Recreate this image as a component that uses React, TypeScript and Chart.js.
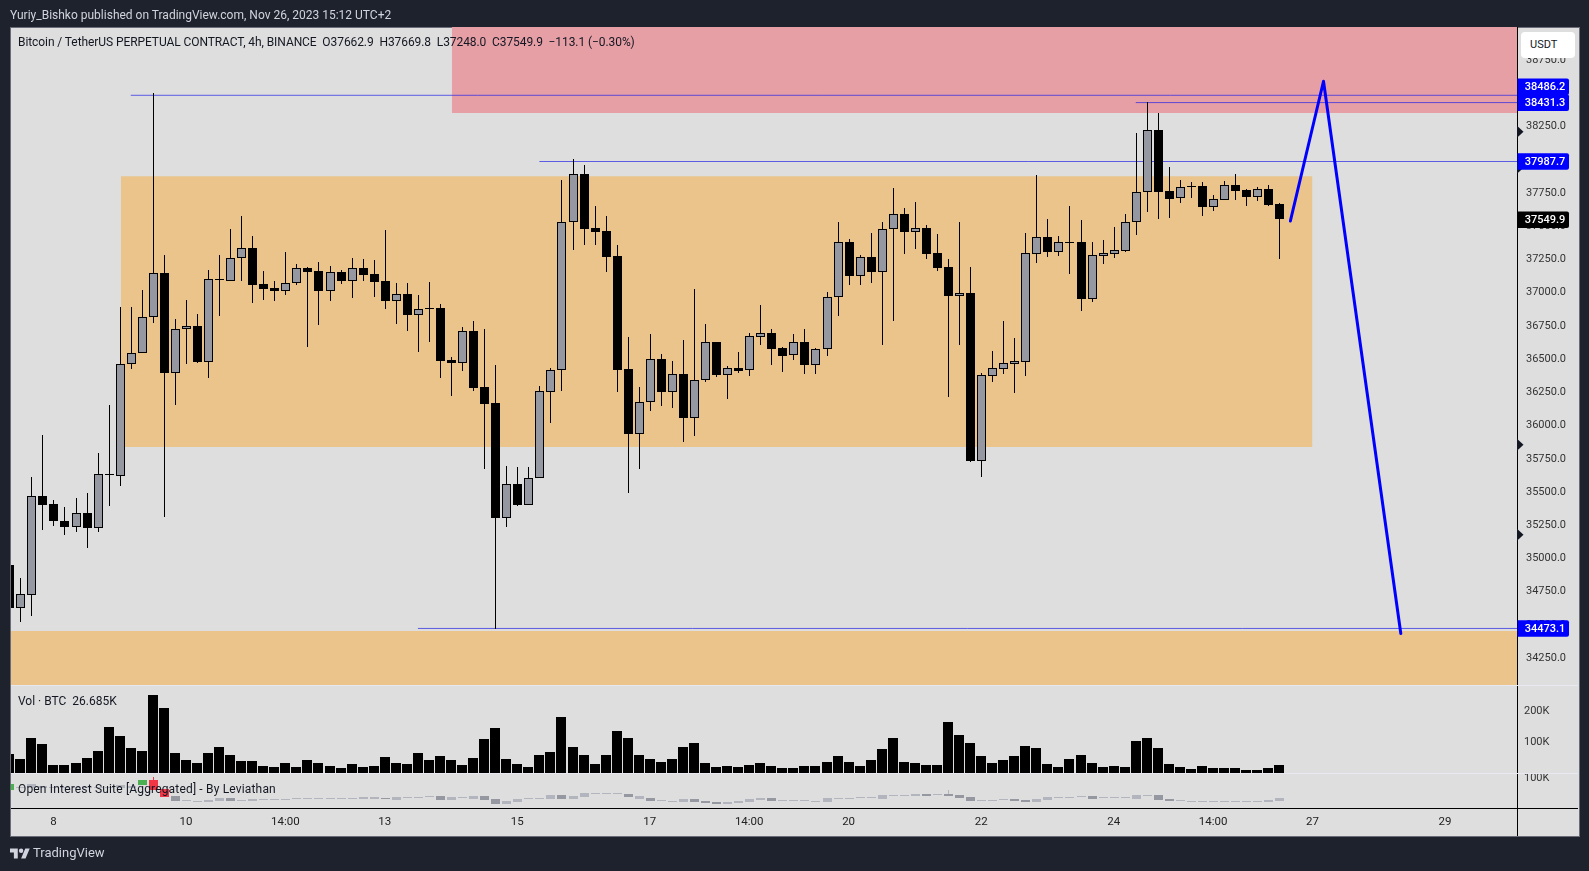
import React, { useEffect, useRef } from "react";
import { Chart, registerables } from "chart.js";

Chart.register(...registerables);

const priceOpen = [34946,34625.7,34722.9,35469.5,35402.6,35281.3,35236.2,35335.5,35227.9,35632,35620.1,36456.3,36545.1,36816.9,37142,36394.6,36719.7,36749.1,36478.1,37100,37087.8,37254.9,37330.2,37058.5,37029.1,37012.6,37066.7,37181.2,37158.6,37010.3,37151.1,37085.6,37181.2,37136,37083.3,36935,36983.2,36829.7,36881,36877.8,36488.7,36468.4,36704.7,36285.5,36165,35301.7,35553.1,35399.5,35598.3,36250.1,36411.2,37525.1,37888.7,37482.2,37459.7,37271.5,36420.9,35933.9,36170.3,36493.9,36250.1,36381,36054.4,36335.9,36621.9,36378,36428.5,36411.2,36664.1,36691.9,36579,36524.1,36624.2,36453.3,36569.2,36960.6,37376.9,37123.2,37264,37153.4,37472.5,37587.6,37454.4,37482.2,37294.1,37188.7,36972.7,36993,35730.7,36370.5,36423.2,36460.8,36475.9,37288.8,37414.5,37303.9,37378,37376.9,36950.1,37273.7,37288.8,37311.4,37525.1,37751,38219.9,37760.7,37705.8,37799,37798.4,37642.6,37695.3,37805.9,37768.3,37717.8,37775.8,37662.9];
const priceHigh = [34946,34848.5,35607.3,35924.2,35435,35381.5,35450.7,35488.4,35789.4,36150,36886.9,36886.9,37015.6,38499.1,37279,36795,36940.3,36835.7,37166.1,37279,37475.5,37571.8,37421.3,37157.8,37082.6,37300.8,37209,37188.7,37226.3,37196.2,37166.1,37256.4,37248.9,37241.4,37467.2,37068.3,37068.3,36977.9,37075.8,36910.2,36511.3,36737.1,36782.2,36722,36451,35690.8,35683.3,35683.3,36293,36428.5,37843.5,38001.6,37956.4,37647.8,37572.6,37354.3,36661.8,36285.5,36684.4,36533.8,36481.2,36639.2,37023.1,36759.7,36621.9,36443.5,36549,36691.9,36902.7,36722,36586.5,36684.4,36722,36579,37000.5,37527.4,37399.4,37279,37444.6,37527.4,37783.3,37632.8,37677.9,37504.8,37437.1,37249,37527.4,37188.7,36388.6,36556.4,36782.2,36654.3,37444.6,37881.2,37550,37422,37647.8,37542.5,37376.9,37391.9,37489.8,37587.6,38197.3,38431.3,38347.8,37941.4,37843.5,37828.5,37828.5,37730.6,37836,37888.7,37775.8,37790.9,37805.9,37669.8];
const priceLow = [34622,34515.9,34564,35209.1,35241.5,35171.4,35193.3,35074.4,35193.3,35392,35542.6,36423.9,36545.1,36767.9,35308.4,36150,36459.3,36466.8,36357,36822.1,37087.8,37085.6,36921.5,36943.3,36935,36980.9,37056.2,36588.8,36754.4,36932.8,37060.7,36955.4,37083.3,36962.9,36872.6,36759.7,36707,36548.9,36624.2,36353.2,36217.7,36405.9,36255.4,35668.2,34461.7,35231.7,35389.7,35399.5,35598.3,36014.5,36255.4,37316.6,37354.3,37354.3,37151.1,36247.8,35487.6,35668.2,36104.8,36142.4,36127.4,35871.5,35916.6,36323.1,36360.7,36195.1,36390.8,36368.2,36601.6,36451,36398.4,36488.7,36383.3,36383.3,36518.8,36819.9,37053.2,37053.2,37068.3,36601.6,36782.2,37286.5,37324.2,37249,37158.6,36210.2,36601.6,35720.9,35608,36323.1,36383.3,36240.3,36368.2,37218.8,37264,37271.5,37136,36857.5,36925.2,37211.3,37256.4,37301.6,37429.6,37602.7,37550,37557.5,37670.4,37708.1,37572.6,37610.2,37695.3,37693,37647.8,37685.5,37647.8,37248];
const priceClose = [34622,34725.1,35469.5,35400.3,35279.1,35233.2,35335.5,35227.9,35628.4,35624,36456.3,36545.1,36816.9,37142,36394.6,36719.7,36749.1,36475.1,37096.1,37092,37254.9,37330.2,37056.2,37026.1,37010.3,37066.7,37179.7,37153.4,37010.3,37148.8,37085.6,37178.9,37128.5,37078,36932.8,36983.2,36829.7,36870.3,36873,36483.4,36466.1,36704.7,36277.9,36157.5,35299.4,35553.1,35399.5,35598.3,36253.1,36411.2,37525.1,37886.4,37474.7,37452.1,37264,36413.4,35931.7,36170.3,36493.9,36247.8,36381,36052.1,36335.9,36621.9,36375.8,36426.2,36405.9,36667.1,36689.6,36571.5,36518.8,36621.9,36451,36569.2,36960.6,37374.6,37120.9,37261.7,37151.1,37472.5,37585.4,37452.1,37480,37286.5,37181.2,36970.4,36990.7,35728.4,36373.5,36426.2,36463.8,36478.9,37291.8,37412.2,37301.6,37374.6,37370,36947.8,37276.8,37291.8,37314.4,37525.1,37751,38217.6,37753.2,37700.5,37788.6,37791,37640.3,37698.3,37803.6,37760.7,37715.6,37773.5,37655.4,37549.9];

const volumeK = [61,45,113,94,26,26,32,48,71,148,119,81,71,252,210,65,42,32,65,84,58,39,39,23,19,32,19,42,32,23,16,29,19,23,52,32,29,65,42,55,42,26,48,110,145,45,29,19,58,68,181,84,58,29,58,135,113,58,45,35,45,84,97,32,19,23,19,26,32,23,16,16,23,23,35,55,35,23,42,77,113,35,32,26,26,165,123,97,55,32,42,55,87,81,29,19,45,58,32,19,23,19,103,113,81,29,19,13,23,16,16,16,10,10,16,26.685];

const oiOpen = [76.7,79.3,79.3,80.7,80.7,80.7,79.3,79.3,79.3,79.3,80.7,80.7,86,95.3,77.3,64,54,52,52,54,60,54,54,56,56.7,56.7,58,57.3,58,58,58,58,58,58,59.3,56,60,60,62,64,56,60,58,63.3,58,48,52,58,58,58,66,58,62,68.7,68.7,68.7,68,58,60,54,52,52,58,54,52,48,50,52,56,60,54.7,54.7,54,52,52,58,58.7,60.7,60.7,58,64.7,64.7,64,68,66.7,68,66,62,54,54.7,56,58,56,52,56,60,60.7,62.7,64,60.7,60.7,60.7,58,64.7,66,58,54,52,52,52,52,52,52,52,52,54];
const oiClose = [88,82.7,87.3,84.7,82.7,82.7,82,82,82,82,86,83.3,95.3,76,62.7,54,56,54,56,60,54,56,58,57.3,58,58,59.3,59.3,59.3,59.3,59.3,60.7,61.3,61.3,57.3,62,61.3,61.3,63.3,56,62,61.3,63.3,56,48,54,58,60,60,66,58,64,70,70,70,70,62,64,54,56,54,58,52,50,48,52,54,58,60,54,56,56,56,54,60,60,60,62,62,66,66,66,68,64,68,64,60,54,56,56,58,54,52,58,62,62,62,64,58,62,62,62,66,66,56,54,56,54,54,54,54,54,54,54,56,60];
const oiWickIndex = [13, 85];
const oiWickHigh = [102, 76];
const oiWickLow = [76, 64];

const timeTickIndex = [4, 16, 25, 34, 46, 58, 67, 76, 88, 100, 109, 118, 130];
const timeTickLabels = ["8", "10", "14:00", "13", "15", "17", "14:00", "20", "22", "24", "14:00", "27", "29"];
const priceTicks = [38750,38500,38250,38000,37750,37500,37250,37000,36750,36500,36250,36000,35750,35500,35250,35000,34750,34500,34250];

const upperZoneX = [40.07, 136.52];
const upperZoneTop = 39000;
const upperZoneBottom = 38353;
const rangeZoneX = [10.1, 118];
const rangeZoneTop = 37877;
const rangeZoneBottom = 35838;
const lowerZoneX = [0.15, 136.52];
const lowerZoneTop = 34453;
const lowerZoneBottom = 34046;

const levelPrices = [38486.2, 38431.3, 37987.7, 34473.1];
const levelStarts = [11, 102, 48, 37];
const pathIndex = [116, 119, 126];
const pathPrice = [37540, 38592, 34435];

const badgePrices = [38486.2, 38431.3, 37987.7, 37549.9, 34473.1];
const badgeNudge = [-8.6, 0, 0, 0, 0];
const markerPrices = [38212, 37941, 35856, 35179];
const volTicks = [200, 100];
const oiTicks = [100];

const FONT = "Roboto, sans-serif";

const snapPlugin = {
  id: "snap",
  afterDatasetsUpdate(chart: any) {
    chart.data.datasets.forEach((ds: any, d: number) => {
      if (ds.type !== "bar") return;
      const odd = ds.barThickness % 2 === 1;
      const price = ds.yAxisID === "y";
      chart.getDatasetMeta(d).data.forEach((el: any) => {
        el.x = odd ? Math.round(el.x) + 0.5 : Math.round(el.x);
        const nudge = price ? 0.5 : 0;
        const top = Math.round(Math.min(el.y, el.base) - nudge);
        const bottom = Math.round(Math.max(el.y, el.base) - nudge);
        el.y = top;
        el.base = Math.max(bottom, top + 1);
      });
    });
  },
};

const overlayPlugin = {
  id: "overlay",
  afterDraw(chart: any) {
    const { ctx, scales } = chart;
    ctx.save();
    ctx.textBaseline = "middle";
    ctx.textAlign = "left";
    ctx.font = `11px ${FONT}`;
    ctx.fillStyle = "#333";
    volTicks.forEach((v) => ctx.fillText(`${v}K`, 1524, scales.yVol.getPixelForValue(v)));
    oiTicks.forEach((v) => ctx.fillText(`${v}K`, 1524, scales.yOi.getPixelForValue(v)));
    ctx.fillStyle = "#131722";
    markerPrices.forEach((p) => {
      const y = scales.y.getPixelForValue(p);
      ctx.beginPath();
      ctx.moveTo(1517, y - 6);
      ctx.lineTo(1523.5, y);
      ctx.lineTo(1517, y + 6);
      ctx.closePath();
      ctx.fill();
    });
    badgePrices.forEach((p, i) => {
      const y = scales.y.getPixelForValue(p) + badgeNudge[i];
      ctx.fillStyle = p === 37549.9 ? "#000" : "#0000ff";
      ctx.beginPath();
      ctx.roundRect(1517.5, y - 8.3, 51.5, 16.6, [0, 2, 2, 0]);
      ctx.fill();
      ctx.fillStyle = "#fff";
      ctx.font = `500 11px ${FONT}`;
      ctx.textAlign = "center";
      ctx.fillText(p.toFixed(1), 1545, y + 0.5);
    });
    ctx.restore();
  },
};

const zone = (xs: number[], top: number, bottom: number, color: string) => ({
  type: "line" as const,
  data: xs.map((x) => ({ x, y: top })),
  yAxisID: "y",
  borderWidth: 0,
  pointRadius: 0,
  backgroundColor: color,
  fill: { value: bottom },
  order: 10,
  clip: 0,
});

export default function App() {
  const ref = useRef<HTMLCanvasElement>(null);
  useEffect(() => {
    document.body.style.margin = "0";
    document.body.style.background = "#1e222d";
    const idx = priceOpen.map((_, i) => i);
    const bar = { type: "bar" as const, grouped: false, clip: 0 };
    const chart = new Chart(ref.current!, {
      type: "bar",
      plugins: [snapPlugin, overlayPlugin],
      data: {
        datasets: [
          zone(upperZoneX, upperZoneTop, upperZoneBottom, "#e79fa6"),
          zone(rangeZoneX, rangeZoneTop, rangeZoneBottom, "#eac48b"),
          zone(lowerZoneX, lowerZoneTop, lowerZoneBottom, "#eac48b"),
          ...levelPrices.map((p, i) => ({
            type: "line" as const,
            data: [{ x: levelStarts[i], y: p }, { x: 136.52, y: p }],
            yAxisID: "y",
            borderColor: "rgba(40,40,230,0.72)",
            borderWidth: 1,
            pointRadius: 0,
            order: 6,
          })),
          {
            ...bar,
            data: idx.map((i) => ({ x: i, y: [priceLow[i], priceHigh[i]] })),
            yAxisID: "y",
            barThickness: 1,
            inflateAmount: 0,
            backgroundColor: "#000",
            order: 4,
          },
          {
            ...bar,
            data: idx.map((i) => ({ x: i, y: [priceOpen[i], priceClose[i]] })),
            yAxisID: "y",
            barThickness: 9,
            inflateAmount: 0,
            borderWidth: 1,
            borderSkipped: false,
            borderColor: "#000",
            backgroundColor: idx.map((i) => (priceClose[i] > priceOpen[i] ? "#9598a1" : "#000")),
            order: 3,
          },
          {
            ...bar,
            data: idx.map((i) => ({ x: i, y: volumeK[i] })),
            yAxisID: "yVol",
            barThickness: 10,
            inflateAmount: 0,
            backgroundColor: "#000",
            order: 3,
          },
          {
            ...bar,
            data: oiWickIndex.map((x, i) => ({ x, y: [oiWickLow[i], oiWickHigh[i]] })),
            yAxisID: "yOi",
            barThickness: 1,
            inflateAmount: 0,
            backgroundColor: oiWickIndex.map((x) => (x === 13 ? "#f23645" : "#b2b5be")),
            order: 3,
          },
          {
            ...bar,
            data: idx.map((i) => ({ x: i, y: [oiOpen[i], oiClose[i]] })),
            yAxisID: "yOi",
            barThickness: 9,
            inflateAmount: 0,
            backgroundColor: idx.map((i) => {
              const d = oiClose[i] - oiOpen[i];
              if (d >= 9) return "#4caf50";
              if (d <= -12) return "#f23645";
              return d < 0 ? "#9598a1" : "#b2b5be";
            }),
            order: 2,
          },
          {
            type: "line" as const,
            data: pathIndex.map((x, i) => ({ x, y: pathPrice[i] })),
            yAxisID: "y",
            borderColor: "#0000ff",
            borderWidth: 3,
            borderCapStyle: "round",
            borderJoinStyle: "round",
            pointRadius: 0,
            order: 1,
          },
        ] as any,
      },
      options: {
        animation: false,
        responsive: false,
        layout: { padding: { left: 11, top: 27, right: 11, bottom: 35 } },
        plugins: { legend: { display: false }, tooltip: { enabled: false } },
        events: [],
        scales: {
          x: {
            type: "linear",
            min: 0.157,
            max: 136.52,
            offset: false,
            grid: { display: false, drawTicks: false },
            border: { display: false },
            afterBuildTicks: (s: any) => {
              s.ticks = timeTickIndex.map((value) => ({ value }));
            },
            afterFit: (s: any) => {
              s.height = 28;
            },
            ticks: {
              autoSkip: false,
              maxRotation: 0,
              padding: 7,
              color: "#222",
              font: { family: FONT, size: 11.5 },
              callback: (v: any) => timeTickLabels[timeTickIndex.indexOf(v)],
            },
          },
          y: {
            type: "linear",
            position: "right",
            min: 33121.6,
            max: 39000.2,
            grid: { display: false, drawTicks: false },
            border: { display: false },
            afterBuildTicks: (s: any) => {
              s.ticks = priceTicks.map((value) => ({ value }));
            },
            afterFit: (s: any) => {
              s.width = 61;
            },
            ticks: {
              autoSkip: false,
              padding: 9,
              color: "#333",
              font: { family: FONT, size: 11 },
              callback: (v: any) => Number(v).toFixed(1),
            },
          },
          yVol: { type: "linear", display: false, min: -112.9, max: 2406.5 },
          yOi: { type: "linear", display: false, min: 40, max: 1602 },
        },
      } as any,
    });
    return () => chart.destroy();
  }, []);

  const text = (style: React.CSSProperties, s: string) => (
    <div style={{ position: "absolute", whiteSpace: "pre", fontFamily: FONT, lineHeight: "14px", ...style }}>{s}</div>
  );
  const line = (l: number, t: number, w: number, h: number, c: string, z = 0) => (
    <div style={{ position: "absolute", left: l, top: t, width: w, height: h, background: c, zIndex: z }} />
  );

  return (
    <div style={{ position: "absolute", left: 0, top: 0, width: 1589, height: 871, background: "#1e222d", overflow: "hidden" }}>
      <div style={{ position: "absolute", left: 10, top: 27, width: 1568, height: 808, background: "#dedede", border: "1px solid #6a6d78", boxSizing: "content-box" }} />
      {line(1517, 27, 1, 809, "#000")}
      {line(11, 808, 1567, 1, "#000")}
      <canvas ref={ref} width={1589} height={871} style={{ position: "absolute", left: 0, top: 0, width: 1589, height: 871 }} />
      {line(11, 685, 1567, 1, "#e8e8f0", 2)}
      {line(11, 773, 1567, 1, "#e8e8f0", 2)}
      {text({ left: 10, top: 8, fontSize: 12, color: "#d1d4dc" }, "Yuriy_Bishko published on TradingView.com, Nov 26, 2023 15:12 UTC+2")}
      {text({ left: 18, top: 35, fontSize: 12, color: "#131722", letterSpacing: "-0.08px" }, "Bitcoin / TetherUS PERPETUAL CONTRACT, 4h, BINANCE  O37662.9  H37669.8  L37248.0  C37549.9  \u2212113.1 (\u22120.30%)")}
      {text({ left: 18, top: 694, fontSize: 12, color: "#131722" }, "Vol \u00b7 BTC  26.685K")}
      {text({ left: 18, top: 782, fontSize: 12, color: "#131722", letterSpacing: "0.17px" }, "Open Interest Suite [Aggregated] - By Leviathan")}
      <div style={{ position: "absolute", left: 1521, top: 32, width: 54, height: 26, background: "#fff", borderRadius: 4, fontFamily: FONT, fontSize: 11, lineHeight: "25px", color: "#131722", boxSizing: "border-box", paddingLeft: 9 }}>USDT</div>
      <svg style={{ position: "absolute", left: 10, top: 846 }} width="20" height="14" viewBox="0 0 36 24">
        <path fill="#d1d4dc" d="M14 22H7V11H0V4h14v18zM28 22h-8l7.5-18h8L28 22z" />
        <circle fill="#d1d4dc" cx="20" cy="8" r="4" />
      </svg>
      {text({ left: 33, top: 846, fontSize: 13, color: "#d1d4dc" }, "TradingView")}
    </div>
  );
}
